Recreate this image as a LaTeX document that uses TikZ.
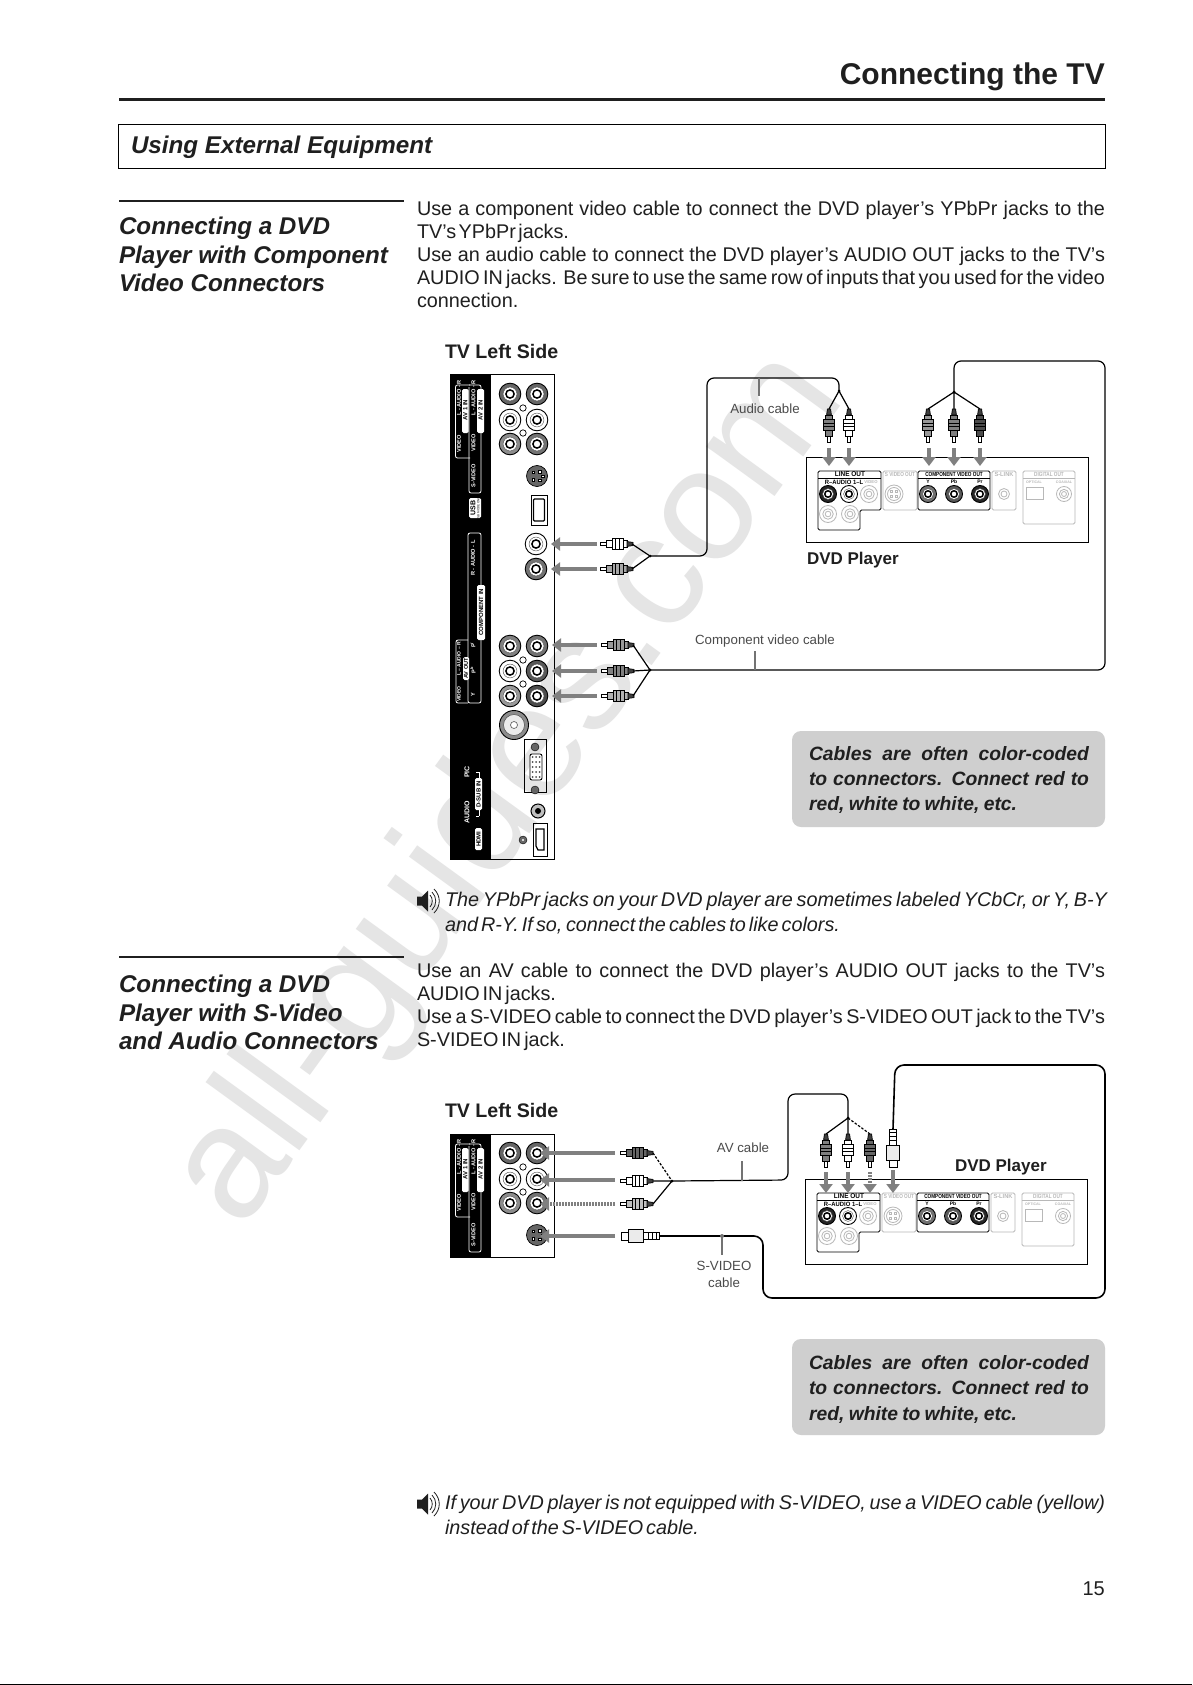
\documentclass[tikz,border=0pt]{standalone}
\usepackage{fontspec}
\setmainfont{Liberation Sans}
\usetikzlibrary{arrows.meta,calc}
\definecolor{wm}{gray}{0.9}
\definecolor{pk}{gray}{0.12}
\definecolor{lt}{gray}{0.72}
\definecolor{arrg}{gray}{0.5}
\newcommand\fsz[1]{\fontsize{#1}{#1}\selectfont}
\newcommand\fit[2]{\makebox[#1pt][s]{\spaceskip=.278em plus 1em minus .2em\relax #2}}
\newcommand\nrw[2]{\scalebox{#1}[1]{#2}}
\tikzset{
  x=1pt,y=-1pt,
  txt/.style={anchor=base west,inner sep=0,outer sep=0,text=pk},
  body/.style={txt,font=\fsz{19.8}},
  note/.style={txt,font=\fsz{19.8}\itshape},
  head/.style={txt,font=\fsz{24.2}\bfseries\itshape},
  call/.style={txt,font=\fsz{19.3}\bfseries\itshape},
  lab/.style={inner sep=0,outer sep=0,font=\fsz{13.3},text=pk!80!white,align=center},
  dvdlab/.style={txt,font=\fsz{17}\bfseries},
  tvlab/.style={txt,font=\fsz{19.6}\bfseries},
  callbox/.style={fill=black!19,rounded corners=9pt,draw=none},
  wire/.style={draw=black,line width=1.2pt,line join=round},
  wdash/.style={wire,dash pattern=on 2.5pt off 1.6pt},
  cable/.style={wire,rounded corners=7pt},
  tick/.style={draw=black!55,line width=1.4pt},
  arr/.style={draw=arrg,line width=4.6pt,-{Triangle[width=13pt,length=9pt]}},
  arrd/.style={arr,dash pattern=on 2pt off 1pt},
  brk/.style={draw=white,line width=.8pt,rounded corners=2pt},
  pl/.style={inner sep=0,outer sep=0,rotate=90,text=white,font=\fsz{5.6}\bfseries},
  pd/.style={pl,text=black,font=\fsz{6}\bfseries},
  dl/.style={inner sep=0,outer sep=0,font=\fsz{6}\bfseries,text=black},
  dg/.style={dl,text=lt},
  pb/.style={draw=black,line width=.8pt,rounded corners=1.5pt},
  gb/.style={draw=lt,line width=.8pt,rounded corners=1.5pt},
}
% jack: x y r ring-fill
\newcommand\jack[4]{%
  \filldraw[fill=#4,draw=black,line width=.9pt] (#1,#2) circle[radius=#3pt];
  \filldraw[fill=white,draw=black!70,line width=.4pt] (#1,#2) circle[radius=.64*#3pt];
  \filldraw[fill=white,draw=black,line width=1.5pt] (#1,#2) circle[radius=.38*#3pt];}
\newcommand\ljack[3]{%
  \draw[lt,line width=.8pt] (#1,#2) circle[radius=#3pt] (#1,#2) circle[radius=.62*#3pt] (#1,#2) circle[radius=.33*#3pt];}
% RCA plug: x y angle colour (tip at x,y, body along local +x)
\newcommand\rca[4]{%
  \begin{scope}[shift={(#1,#2)},rotate=#3,line width=.7pt]
    \filldraw[fill=white,draw=black] (0,-1.5) rectangle (6,1.5);
    \filldraw[fill=#4,draw=black] (6,-3.8) rectangle (12,3.8);
    \filldraw[fill=#4,draw=black] (12,-5.2) rectangle (23,5.2);
    \draw[black] (15.5,-5.2)--(15.5,5.2) (19,-5.2)--(19,5.2);
    \filldraw[fill=#4,draw=black] (23,-3.6) rectangle (27,3.6);
    \filldraw[fill=black!75,draw=black] (27,-2.4) -- (33,-1.6) -- (33,1.6) -- (27,2.4) -- cycle;
  \end{scope}}
% S-video plug
\newcommand\svp[3]{%
  \begin{scope}[shift={(#1,#2)},rotate=#3,line width=.8pt]
    \filldraw[fill=white,draw=black] (0,-4) rectangle (7,4);
    \filldraw[fill=black!8,draw=black] (7,-6.5) rectangle (22,6.5);
    \filldraw[fill=white,draw=black] (22,-3.5) rectangle (38,3.5);
    \draw (27,-3.5)--(27,3.5) (31,-3.5)--(31,3.5) (35,-3.5)--(35,3.5);
  \end{scope}}
% S-video socket
\newcommand\svj[3]{%
  \filldraw[fill=black!60,draw=black,line width=.7pt] (#1,#2) circle[radius=#3pt];
  \foreach \dx/\dy in {-.35/-.35,.25/-.4,-.35/.35,.25/.4,.55/0}{
    \filldraw[fill=white,draw=black,line width=.4pt] ($(#1,#2)+(\dx*#3,\dy*#3)+(-1.3,-1.3)$) rectangle ++(2.6,2.6);}}
% gray arrow with named ends
\newcommand\garrow[6][arr]{%
  \coordinate (#2-s) at (#3,#4); \coordinate (#2-e) at (#5,#6);
  \draw[#1] (#2-s) -- (#2-e);}
% speaker icon
\newcommand\speaker[2]{%
  \fill[pk] (#1,#2-4.5) -- (#1+5,#2-4.5) -- (#1+11,#2-10.5) -- (#1+11,#2+10.5) -- (#1+5,#2+4.5) -- (#1,#2+4.5) -- cycle;
  \draw[pk,line width=.8pt]
    (#1+13,#2-6) .. controls (#1+16,#2-3) and (#1+16,#2+3) .. (#1+13,#2+6)
    (#1+15,#2-9) .. controls (#1+20,#2-4) and (#1+20,#2+4) .. (#1+15,#2+9)
    (#1+17,#2-12) .. controls (#1+24,#2-5) and (#1+24,#2+5) .. (#1+17,#2+12);}
% DVD back panel
\newcommand\dvdpanel[3]{%
  \begin{scope}[shift={(#2,#3)}]
    \draw[black,line width=.9pt] (806,457) rectangle (1088,542);
    % line out
    \draw[pb] (818,471) -- (881,471) -- (881,510) -- (860,510) -- (860,530) -- (818,530) -- cycle;
    \draw[black,line width=.6pt] (818,477.8) -- (881,477.8);
    \node[dl,font=\fsz{7}\bfseries] (#1lo) at (850,474.4) {\nrw{.92}{LINE OUT}};
    \node[dl,font=\fsz{6.2}\bfseries] (#1ra) at (844,482) {\nrw{.95}{R–AUDIO 1–L}};
    \jack{828}{494}{8.5}{black!85}
    \jack{849}{494}{8.5}{white}
    \ljack{869}{494}{8.5}
    \ljack{828}{514}{8.5}
    \ljack{850}{514}{8.5}
    \node[dg,font=\fsz{4.2}\bfseries] (#1vv) at (871,482) {VIDEO};
    % s-video out
    \draw[gb] (883,471) rectangle (917,510);
    \node[dg] (#1so) at (900,474.4) {\nrw{.78}{S VIDEO OUT}};
    \draw[lt,line width=.8pt] (894,494) circle[radius=9pt] (894,494) circle[radius=6.5pt];
    \foreach \q/\w in {-2.5/-2.5,2.5/-2.5,-2.5/2.5,2.5/2.5}{\draw[lt,line width=.5pt] (894+\q-1,494+\w-1) rectangle ++(2,2);}
    % component
    \draw[pb] (918,471) rectangle (990,510);
    \draw[black,line width=.6pt] (918,477.8) -- (990,477.8);
    \node[dl] (#1cv) at (954,474.4) {\nrw{.78}{COMPONENT VIDEO OUT}};
    \node[dl,font=\fsz{5}\bfseries] (#1y) at (928,482) {Y};
    \node[dl,font=\fsz{5}\bfseries] (#1pb) at (954,482) {Pb};
    \node[dl,font=\fsz{5}\bfseries] (#1pr) at (980,482) {Pr};
    \jack{928}{494}{8.5}{black!55}
    \jack{954}{494}{8.5}{black!65}
    \jack{980}{494}{8.5}{black!85}
    % s-link
    \draw[gb] (992,471) rectangle (1016,510);
    \node[dg] (#1sl) at (1004,474.4) {\nrw{.95}{S-LINK}};
    \draw[lt,line width=.8pt] (1004,494) circle[radius=5.5pt] (1004,494) circle[radius=3pt];
    % digital out
    \draw[gb] (1023,471) rectangle (1075,524);
    \draw[lt,line width=.5pt] (1023,477.8) -- (1075,477.8);
    \node[dg] (#1do) at (1049,474.4) {\nrw{.78}{DIGITAL OUT}};
    \node[dg,font=\fsz{3.6}\bfseries] (#1op) at (1034,482) {OPTICAL};
    \node[dg,font=\fsz{3.6}\bfseries] (#1cx) at (1064,482) {COAXIAL};
    \draw[lt,line width=.8pt] (1026,487) rectangle (1043,499);
    \ljack{1064}{494}{7.5}
  \end{scope}}
% AV block of TV panel
\newcommand\avblock[2]{%
  \begin{scope}[shift={(0,#2)}]
    \draw[brk] (470,384-374) -- (455.5,384-374) -- (455.5,457-374) -- (470,457-374);
    \draw[brk] (469,386-374) -- (469,492-374) -- (481,492-374) -- (481,430-374);
    \draw[brk] (469,384-374) -- (481,384-374) -- (481,390-374);
    \fill[white,rounded corners=1.5pt] (462,388-374) rectangle (468.5,432-374);
    \fill[white,rounded corners=1.5pt] (477,388-374) rectangle (484,432-374);
    \node[pl] (#1a) at (459,397-374) {L - AUDIO - R};
    \node[pd] (#1b) at (465.3,409-374) {AV 1 IN};
    \node[pl] (#1c) at (459,443-374) {VIDEO};
    \node[pl] (#1d) at (473.5,397-374) {L - AUDIO - R};
    \node[pd] (#1e) at (480.5,409-374) {AV 2 IN};
    \node[pl] (#1f) at (473.5,442-374) {VIDEO};
    \node[pl] (#1g) at (473.5,475-374) {S-VIDEO};
    \jack{510}{393-374}{10.8}{black!60}
    \jack{537}{393-374}{10.8}{black!60}
    \jack{510}{419-374}{10.8}{white}
    \jack{537}{419-374}{10.8}{white}
    \jack{510}{443-374}{10.8}{black!45}
    \jack{537}{443-374}{10.8}{black!55}
    \draw[black,line width=.7pt] (523,407-374) circle[radius=3.2pt] (523,432-374) circle[radius=3.2pt];
    \svj{537}{475-374}{10.5}
  \end{scope}}
\begin{document}
\begin{tikzpicture}
\useasboundingbox (0,0) rectangle (1192,1685);
\fill[white] (0,0) rectangle (1192,1685);
% watermark
\node[anchor=base west,inner sep=0,rotate=54,text=wm,font=\fsz{160}] (watermark) at (241,1232) {all-guides.com};
% header
\node[anchor=base east,inner sep=0,font=\fsz{30}\bfseries,text=pk] (title) at (1105,85) {Connecting the TV};
\draw[pk,line width=3pt] (119,100) -- (1105,100);
\draw[black,line width=1pt] (118,125) rectangle (1105,169);
\node[head] (sec) at (131,154) {Using External Equipment};
% section 1
\draw[pk,line width=2.5pt] (119,201) -- (404,201);
\node[head] (h11) at (119,235) {Connecting a DVD};
\node[head] (h12) at (119,264) {Player with Component};
\node[head] (h13) at (119,292) {Video Connectors};
\node[body] (b11) at (417,216) {\fit{688}{Use a component video cable to connect the DVD player’s YPbPr jacks to the}};
\node[body] (b12) at (417,239) {\fit{152}{TV’s YPbPr jacks.}};
\node[body] (b13) at (417,262) {\fit{688}{Use an audio cable to connect the DVD player’s AUDIO OUT jacks to the TV’s}};
\node[body] (b14) at (417,285) {\fit{688}{AUDIO IN jacks. Be sure to use the same row of inputs that you used for the video}};
\node[body] (b15) at (417,308) {connection.};
\node[tvlab] (tv1) at (445,358) {TV Left Side};
% TV panel 1
\fill[black] (450,374) rectangle (491,859);
\draw[black,line width=.9pt] (450,374) rectangle (554,859);
\avblock{p}{375}
\fill[white,rounded corners=1.5pt] (469,498) rectangle (481,518);
\node[pd,font=\fsz{7}\bfseries] (usb) at (473,508) {USB};
\node[pd,font=\fsz{3}] (usb2) at (478.5,508) {(USB MODE ONLY)};
% audio + component
\draw[brk] (481,585) -- (481,533) -- (468,533) -- (468,703) -- (481,703) -- (481,640);
\node[pl] (rl) at (473,558) {R - AUDIO - L};
\fill[white,rounded corners=1.5pt] (477,585) rectangle (485,640);
\node[pd] (cin) at (481,612) {COMPONENT IN};
\node[pl] (cpr) at (473,645) {P\textsuperscript{r}};
\node[pl] (cpb) at (473,670) {P\textsuperscript{b}};
\node[pl] (cy) at (473,695) {Y};
\draw[brk] (468,640) -- (456,640) -- (456,703) -- (468,703);
\node[pl,font=\fsz{5}\bfseries] (vid) at (459,694) {VIDEO};
\node[pl,font=\fsz{5}\bfseries] (lar) at (459,659) {L – AUDIO – R};
\fill[white,rounded corners=1.5pt] (463,657) rectangle (469,680);
\node[pd,font=\fsz{5.6}\bfseries] (avo) at (466,668.5) {AV OUT};
\jack{536}{544}{10.8}{white}
\jack{536}{569}{10.8}{black!55}
\draw[black,line width=.9pt] (531,495) rectangle (547,525);
\draw[black,line width=1.2pt,rounded corners=1pt] (533.5,499) rectangle (544.5,521);
\jack{510}{646}{10.8}{black!50}
\jack{537}{646}{10.8}{black!55}
\jack{510}{671}{10.8}{white}
\jack{537}{671}{10.8}{black!65}
\jack{510}{696}{10.8}{black!40}
\jack{537}{696}{10.8}{black!70}
\draw[black,line width=.7pt] (523,660) circle[radius=3.2pt] (523,684) circle[radius=3.2pt];
\filldraw[fill=black!45,draw=black,line width=.9pt] (514,725) circle[radius=14.5pt];
\filldraw[fill=black!8,draw=black!70,line width=.5pt] (514,725) circle[radius=10.5pt];
\filldraw[fill=white,draw=black!60,line width=.7pt] (514,725) circle[radius=3.5pt];
% VGA
\draw[black,line width=.9pt] (524,739) rectangle (546,792);
\filldraw[fill=black!60,draw=black] (535,747) circle[radius=4pt] (535,790) circle[radius=4pt];
\filldraw[fill=white,draw=black,line width=.9pt,rounded corners=2pt] (530,754) rectangle (542,780);
\foreach \i in {0,1,2,3,4}{\foreach \j in {0,1,2}{\fill[black!70] (532.5+\j*3.5,757+\i*5) circle[radius=1pt];}}
\filldraw[fill=black!25,draw=black,line width=1pt] (538,811) circle[radius=7pt];
\fill[black] (538,811) circle[radius=3pt];
\filldraw[fill=black!60,draw=black] (523,840) circle[radius=4pt];
\fill[white] (523,840) circle[radius=1.2pt];
\draw[black,line width=1pt] (533,823) rectangle (547,856);
\draw[black,line width=1.2pt] (536,829) -- (544,829) -- (544,850) -- (538,850) -- (536,846) -- cycle;
% D-SUB labels
\draw[brk] (479,772) -- (479,778) (479,810) -- (479,816);
\draw[brk] (479,772) -- (476,772) (479,816) -- (476,816);
\fill[white,rounded corners=1.5pt] (475,778) rectangle (482,810);
\node[pd] (dsub) at (478.5,794) {D-SUB IN};
\node[pl,font=\fsz{7}\bfseries] (pic) at (467,772) {PIC};
\node[pl,font=\fsz{7}\bfseries] (aud) at (467,812) {AUDIO};
\fill[white,rounded corners=1.5pt] (475,828) rectangle (482,850);
\node[pd] (hdmi) at (478.5,839) {HDMI};
% arrows
\garrow{a1}{597}{544}{551}{544}
\garrow{a2}{597}{569}{551}{569}
\garrow{c1}{597}{645}{552}{645}
\garrow{c2}{597}{671}{552}{671}
\garrow{c3}{597}{696}{552}{696}
\rca{600}{544}{0}{white}
\rca{600}{569}{0}{black!35}
\rca{601}{645}{0}{black!40}
\rca{601}{671}{0}{black!50}
\rca{601}{696}{0}{black!30}
% DVD 1
\dvdpanel{d}{0}{0}
\garrow{v1}{829}{448}{829}{466}
\garrow{v2}{849}{448}{849}{466}
\garrow{v3}{929}{448}{929}{466}
\garrow{v4}{954}{448}{954}{466}
\garrow{v5}{980}{448}{980}{466}
\rca{829}{442}{90}{black!50}
\rca{849}{442}{90}{white}
\rca{928}{442}{90}{black!40}
\rca{954}{442}{90}{black!50}
\rca{980}{442}{90}{black!70}
% wires 1
\coordinate (ja) at (650,556);
\coordinate (jb) at (839,391);
\coordinate (jc) at (650,670);
\coordinate (jd) at (954,392);
\draw[wire] (632,544) -- (ja) (632,569) -- (ja);
\draw[wire] (829,409) -- (jb) (849,409) -- (jb);
\draw[wire] (633,645) -- (jc) (633,671) -- (jc) (633,696) -- (jc);
\draw[wire] (928,409) -- (jd) (954,409) -- (jd) (980,409) -- (jd);
\draw[cable] (ja) -- (707,556) -- (707,378) -- (839,378) -- (jb);
\draw[cable] (jc) -- (1105,670) -- (1105,361) -- (954,361) -- (jd);
\fill (ja) circle[radius=1.5pt] (jb) circle[radius=1.5pt] (jc) circle[radius=1.5pt] (jd) circle[radius=1.5pt];
\coordinate (ta) at (759,378);
\draw[tick] (ta) -- (759,396);
\node[lab] (audiocable) at (765,409) {Audio cable};
\coordinate (tc) at (755,670);
\draw[tick] (tc) -- (755,651);
\node[lab] (compcable) at (765,641) {Component video cable};
\node[dvdlab] (dvd1) at (807,564) {DVD Player};
% callout 1
\fill[callbox] (792,731) rectangle (1105,827);
\node[call] (c11) at (809,760) {\fit{280}{Cables are often color-coded}};
\node[call] (c12) at (809,785) {\fit{280}{to connectors. Connect red to}};
\node[call] (c13) at (809,810) {\fit{208}{red, white to white, etc.}};
% note 1
\speaker{417}{901}
\node[note] (n11) at (445,906) {\fit{662}{The YPbPr jacks on your DVD player are sometimes labeled YCbCr, or Y, B-Y}};
\node[note] (n12) at (445,931) {\fit{395}{and R-Y. If so, connect the cables to like colors.}};
% section 2
\draw[pk,line width=2.5pt] (119,957) -- (404,957);
\node[head] (h21) at (119,992) {Connecting a DVD};
\node[head] (h22) at (119,1021) {Player with S-Video};
\node[head] (h23) at (119,1049) {and Audio Connectors};
\node[body] (b21) at (417,977) {\fit{688}{Use an AV cable to connect the DVD player’s AUDIO OUT jacks to the TV’s}};
\node[body] (b22) at (417,1000) {\fit{139}{AUDIO IN jacks.}};
\node[body] (b23) at (417,1023) {\fit{688}{Use a S-VIDEO cable to connect the DVD player’s S-VIDEO OUT jack to the TV’s}};
\node[body] (b24) at (417,1046) {\fit{148}{S-VIDEO IN jack.}};
\node[tvlab] (tv2) at (445,1117) {TV Left Side};
% TV panel 2
\fill[black] (450,1134) rectangle (491,1257);
\draw[black,line width=.9pt] (450,1134) rectangle (554,1257);
\avblock{q}{1134}
\garrow{e1}{615}{1153}{540}{1153}
\garrow{e2}{615}{1180}{540}{1180}
\garrow[arrd]{e3}{615}{1204}{540}{1204}
\garrow{e4}{615}{1236}{540}{1236}
\rca{620}{1153}{0}{black!60}
\rca{620}{1181}{0}{white}
\rca{620}{1204}{0}{black!25}
\svp{621}{1236}{0}
% DVD 2
\dvdpanel{e}{-1}{722}
\garrow{f1}{826}{1172}{826}{1193}
\garrow{f2}{848}{1172}{848}{1193}
\garrow[arrd]{f3}{870}{1172}{870}{1193}
\garrow{f4}{893}{1170}{893}{1193}
\rca{826}{1167}{90}{black!50}
\rca{848}{1167}{90}{white}
\rca{870}{1167}{90}{black!60}
\svp{893}{1167}{90}
% wires 2
\coordinate (je) at (672,1181);
\coordinate (jf) at (848,1118);
\draw[wdash] (653,1153) -- (je);
\draw[wire] (653,1181) -- (je) (653,1204) -- (je);
\draw[wire] (826,1134) -- (jf) (848,1134) -- (jf);
\draw[wdash] (870,1134) -- (jf);
\draw[cable] (je) -- (788,1180) -- (788,1094) -- (848,1094) -- (jf);
\coordinate (sa) at (659,1236);
\coordinate (sb) at (893,1129);
\draw[cable,line width=1.6pt,rounded corners=9pt] (sa) -- (763,1236) -- (763,1298) -- (1105,1298) -- (1105,1065) -- (895,1065) -- (sb);
\fill (je) circle[radius=1.5pt] (jf) circle[radius=1.5pt];
\coordinate (tav) at (742,1181);
\draw[tick] (tav) -- (742,1161);
\node[lab] (avcable) at (743,1148) {AV cable};
\coordinate (tsv) at (722,1236);
\draw[tick] (tsv) -- (722,1255);
\fill[black!55] (tsv) circle[radius=2pt];
\node[lab] (svc1) at (724,1266) {S-VIDEO};
\node[lab] (svc2) at (724,1283) {cable};
\node[dvdlab] (dvd2) at (955,1171) {DVD Player};
% callout 2
\fill[callbox] (792,1339) rectangle (1105,1435);
\node[call] (c21) at (809,1369) {\fit{280}{Cables are often color-coded}};
\node[call] (c22) at (809,1394) {\fit{280}{to connectors. Connect red to}};
\node[call] (c23) at (809,1420) {\fit{208}{red, white to white, etc.}};
% note 2
\speaker{417}{1504}
\node[note] (n21) at (445,1509) {\fit{660}{If your DVD player is not equipped with S-VIDEO, use a VIDEO cable (yellow)}};
\node[note] (n22) at (445,1534) {\fit{254}{instead of the S-VIDEO cable.}};
\node[anchor=base east,inner sep=0,font=\fsz{20},text=pk] (pg) at (1105,1595) {15};
\draw[black,line width=1.2pt] (0,1684.4) -- (1192,1684.4);
\end{tikzpicture}
\end{document}
